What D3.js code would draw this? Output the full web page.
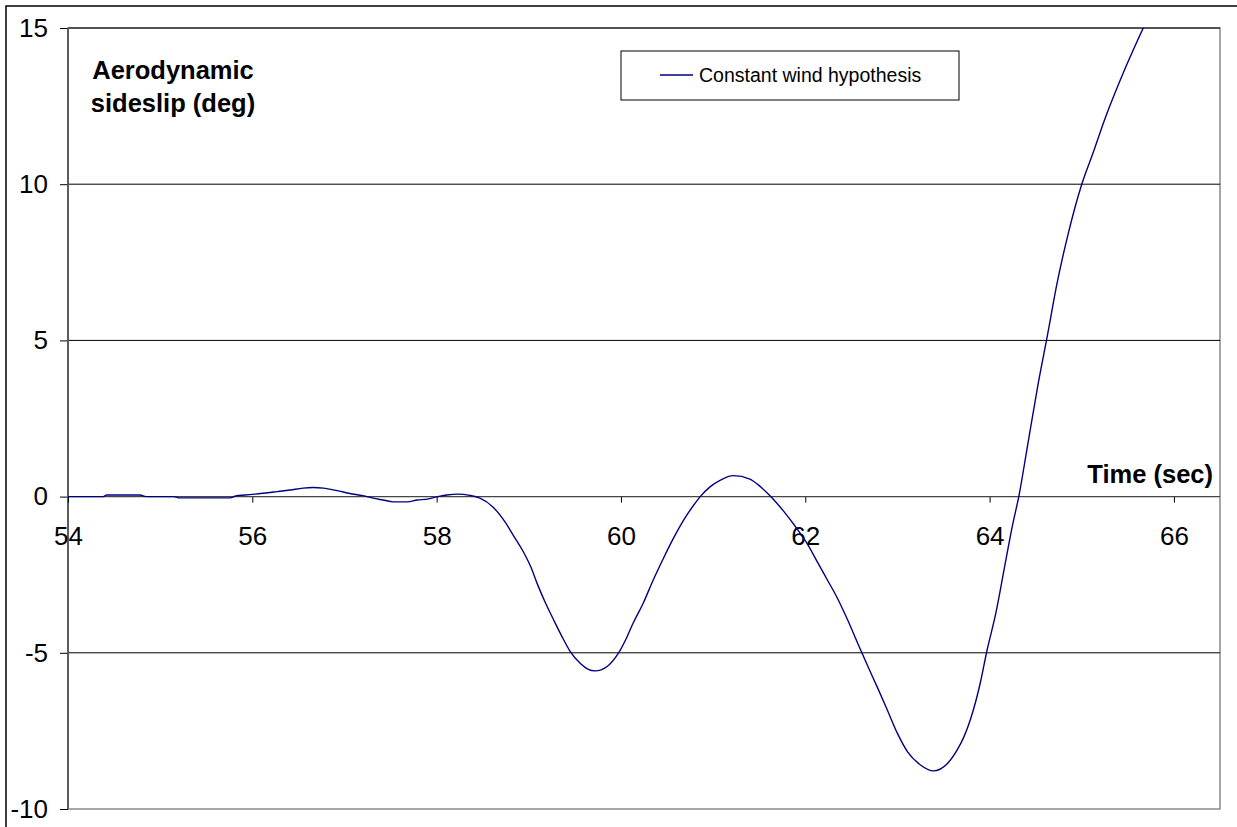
<!DOCTYPE html>
<html>
<head>
<meta charset="utf-8">
<script src="https://cdn.jsdelivr.net/npm/d3@7/dist/d3.min.js"></script>
<style>
  html, body { margin: 0; padding: 0; background: #fff; }
  svg { display: block; font-family: "Liberation Sans", Arial, sans-serif; }
</style>
</head>
<body>
<svg id="chart" width="1237" height="827"></svg>
<script>
// Simulated sideslip angle over time
const timeSec = [
  54.0, 54.38, 54.42, 54.78, 54.85, 55.15, 55.2, 55.76, 55.82, 55.92,
  56.03, 56.27, 56.41, 56.55, 56.66, 56.77, 56.92, 57.06, 57.2, 57.31,
  57.42, 57.53, 57.68, 57.79, 57.9, 58.0, 58.11, 58.23, 58.36, 58.47,
  58.61, 58.74, 58.83, 58.93, 59.02, 59.1, 59.18, 59.27, 59.36, 59.45,
  59.56, 59.64, 59.72, 59.85, 59.96, 60.05, 60.13, 60.24, 60.35, 60.46,
  60.57, 60.68, 60.79, 60.86, 60.97, 61.08, 61.22, 61.4, 61.52, 61.62,
  61.76, 61.92, 62.03, 62.14, 62.24, 62.35, 62.46, 62.57, 62.68, 62.78,
  62.89, 63.0, 63.11, 63.25, 63.39, 63.54, 63.65, 63.72, 63.79, 63.85,
  63.9, 63.97, 64.07, 64.16, 64.25, 64.32, 64.41, 64.52, 64.63, 64.73,
  64.86, 65.0, 65.13, 65.24, 65.46, 65.67
];
const sideslipDeg = [
  0, 0, 0.05, 0.05, 0, 0, -0.04, -0.04, 0.02, 0.05,
  0.08, 0.16, 0.21, 0.27, 0.29, 0.27, 0.19, 0.1, 0.03, -0.05,
  -0.11, -0.17, -0.17, -0.11, -0.08, -0.01, 0.05, 0.08, 0.04, -0.05,
  -0.33, -0.8, -1.23, -1.71, -2.24, -2.85, -3.4, -3.95, -4.48, -4.96,
  -5.34, -5.52, -5.58, -5.44, -5.07, -4.59, -4.06, -3.42, -2.67, -1.98,
  -1.33, -0.75, -0.27, 0, 0.32, 0.53, 0.67, 0.56, 0.3, 0.02,
  -0.45, -1.07, -1.55, -2.14, -2.67, -3.26, -3.95, -4.7, -5.44, -6.09,
  -6.83, -7.58, -8.17, -8.59, -8.78, -8.55, -8.1, -7.7, -7.15, -6.55,
  -5.95, -4.95, -3.7, -2.29, -0.9, 0.05, 1.6, 3.5, 5.2, 6.8,
  8.5, 10.0, 11.06, 12.0, 13.63, 15.02
];
const xTicks = [54, 56, 58, 60, 62, 64, 66];
const yTicks = [-10, -5, 0, 5, 10, 15];
const seriesName = "Constant wind hypothesis";
const yTitle = ["Aerodynamic", "sideslip (deg)"];
const xTitle = "Time (sec)";

const data = timeSec.map((t, i) => ({ t, v: sideslipDeg[i] }));

const svg = d3.select("#chart");
const plot = { left: 68, right: 1220, top: 28, bottom: 809 };

const x = d3.scaleLinear().domain([54, 66.5]).range([plot.left, plot.right]);
const y = d3.scaleLinear().domain([-10, 15]).range([plot.bottom, plot.top]);

// Plain hyphen for negative numbers
const fmt = d => String(d);

// Outer chart frame
svg.append("rect")
  .attr("x", 6).attr("y", 6)
  .attr("width", 1240).attr("height", 830)
  .attr("fill", "#fff")
  .attr("stroke", "#000").attr("stroke-width", 1.5);

// Plot area border
svg.append("rect")
  .attr("x", plot.left).attr("y", plot.top)
  .attr("width", plot.right - plot.left).attr("height", plot.bottom - plot.top)
  .attr("fill", "#fff")
  .attr("stroke", "#8a8a8a").attr("stroke-width", 1.5);

// Horizontal gridlines
svg.append("g")
  .selectAll("line")
  .data(yTicks.filter(d => d !== 0 && d !== -10))
  .join("line")
  .attr("x1", plot.left).attr("x2", plot.right)
  .attr("y1", d => y(d)).attr("y2", d => y(d))
  .attr("stroke", "#000").attr("stroke-width", 1);

// Y axis
const yAxis = svg.append("g")
  .attr("transform", `translate(${plot.left},0)`)
  .call(d3.axisLeft(y).tickValues(yTicks).tickFormat(fmt)
    .tickSizeInner(8).tickSizeOuter(0).tickPadding(12));
yAxis.select(".domain").remove();
yAxis.selectAll(".tick line").attr("stroke", "#000");
yAxis.selectAll(".tick text")
  .attr("fill", "#000")
  .style("font-size", "26px")
  .style("font-family", "'Liberation Sans', Arial, sans-serif");
svg.append("line")
  .attr("x1", plot.left).attr("x2", plot.left)
  .attr("y1", plot.top).attr("y2", plot.bottom)
  .attr("stroke", "#555").attr("stroke-width", 1.8);

// X axis drawn through zero
const xAxis = svg.append("g")
  .attr("transform", `translate(0,${y(0)})`)
  .call(d3.axisBottom(x).tickValues(xTicks).tickFormat(fmt)
    .tickSizeInner(6).tickSizeOuter(0).tickPadding(24));
xAxis.select(".domain").remove();
xAxis.selectAll(".tick line").attr("stroke", "#000");
xAxis.selectAll(".tick text")
  .attr("fill", "#000")
  .style("font-size", "26px")
  .style("font-family", "'Liberation Sans', Arial, sans-serif");
svg.append("line")
  .attr("x1", plot.left).attr("x2", plot.right)
  .attr("y1", y(0)).attr("y2", y(0))
  .attr("stroke", "#444").attr("stroke-width", 1.3);

// Data line
svg.append("defs").append("clipPath").attr("id", "plotClip")
  .append("rect")
  .attr("x", plot.left).attr("y", plot.top)
  .attr("width", plot.right - plot.left).attr("height", plot.bottom - plot.top);

const line = d3.line()
  .x(d => x(d.t))
  .y(d => y(d.v))
  .curve(d3.curveMonotoneX);

svg.append("path")
  .datum(data)
  .attr("clip-path", "url(#plotClip)")
  .attr("d", line)
  .attr("fill", "none")
  .attr("stroke", "#000080")
  .attr("stroke-width", 1.4);

// Axis titles
const yt = svg.append("text")
  .attr("text-anchor", "middle")
  .attr("font-weight", "bold")
  .style("font-size", "25.5px")
  .attr("fill", "#000");
yt.selectAll("tspan")
  .data(yTitle)
  .join("tspan")
  .attr("x", 173)
  .attr("y", (d, i) => 79 + i * 33)
  .text(d => d);

svg.append("text")
  .attr("x", 1213).attr("y", 483)
  .attr("text-anchor", "end")
  .attr("font-weight", "bold")
  .style("font-size", "25.5px")
  .attr("fill", "#000")
  .text(xTitle);

// Legend
const legend = svg.append("g");
legend.append("rect")
  .attr("x", 621).attr("y", 51)
  .attr("width", 338).attr("height", 49)
  .attr("fill", "#fff")
  .attr("stroke", "#000").attr("stroke-width", 1);
legend.append("line")
  .attr("x1", 660).attr("x2", 693)
  .attr("y1", 75).attr("y2", 75)
  .attr("stroke", "#000080").attr("stroke-width", 1.4);
legend.append("text")
  .attr("x", 699).attr("y", 82)
  .style("font-size", "19.5px")
  .attr("fill", "#000")
  .text(seriesName);
</script>
</body>
</html>
